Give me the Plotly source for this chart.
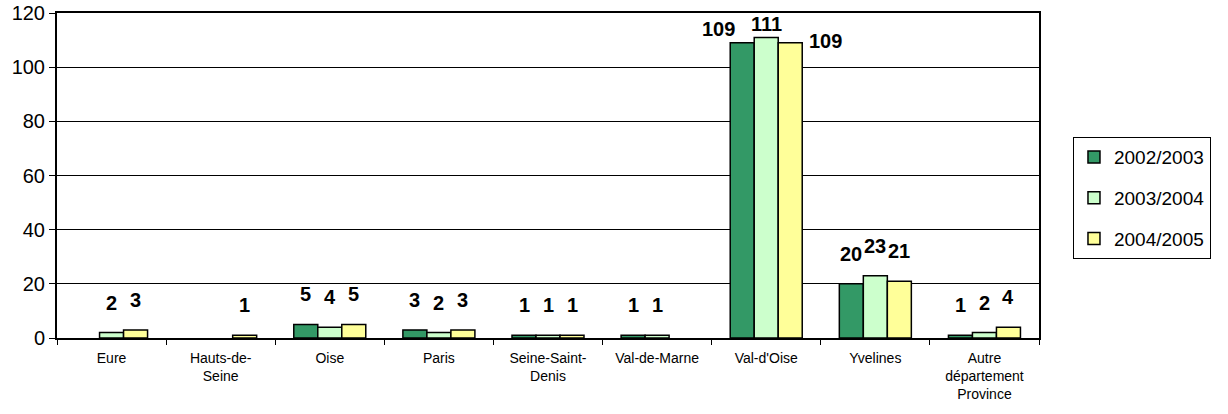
import plotly.graph_objects as go

categories = ["Eure", "Hauts-de-<br>Seine", "Oise", "Paris", "Seine-Saint-<br>Denis",
              "Val-de-Marne", "Val-d'Oise", "Yvelines", "Autre<br>département<br>Province"]
series_names = ["2002/2003", "2003/2004", "2004/2005"]
values_2002 = [None, None, 5, 3, 1, 1, 109, 20, 1]
values_2003 = [2, None, 4, 2, 1, 1, 111, 23, 2]
values_2004 = [3, 1, 5, 3, 1, None, 109, 21, 4]
y_ticks = [0, 20, 40, 60, 80, 100, 120]

colors = ["#339966", "#CCFFCC", "#FFFF99"]
all_values = [values_2002, values_2003, values_2004]

fig = go.Figure()
for name, vals, col in zip(series_names, all_values, colors):
    fig.add_trace(go.Bar(
        x=categories, y=vals, name=name, legendgroup=name,
        marker=dict(color=col, line=dict(color="black", width=1.5)),
    ))

# data labels, Excel moves the tall ones aside
bar_px = 24
nudge = {(6, 0): (-24, -16), (6, 1): (0, -17), (6, 2): (35, -28)}
annotations = []
for i, vals in enumerate(all_values):
    for j, v in enumerate(vals):
        if v is None:
            continue
        dx, dy = nudge.get((j, i), (0, 0))
        annotations.append(dict(
            x=categories[j], y=v, xref="x", yref="y", text=str(v),
            showarrow=False, yanchor="bottom",
            xshift=(i - 1) * bar_px + dx, yshift=17 + dy,
            font=dict(family="Liberation Sans, Arial", size=20, color="black", weight="bold"),
        ))

fig.update_layout(
    width=1228, height=414,
    margin=dict(l=57, r=189, t=13, b=76, autoexpand=False),
    paper_bgcolor="white", plot_bgcolor="white",
    barmode="group", bargap=0.34, bargroupgap=0,
    font=dict(family="Liberation Sans, Arial", color="black"),
    annotations=annotations,
    showlegend=True,
    legend=dict(
        x=1.0346, xanchor="left", y=0.618, yanchor="top",
        bordercolor="black", borderwidth=1,
        font=dict(size=19), tracegroupgap=13,
        itemwidth=30,
    ),
    xaxis=dict(
        type="category", tickson="boundaries", ticks="outside", ticklen=5,
        tickcolor="black", showline=True, linecolor="black", linewidth=2,
        mirror=True, showgrid=False, tickfont=dict(size=14),
        ticklabelstandoff=6, automargin=False,
    ),
    yaxis=dict(
        range=[0, 120], tickvals=y_ticks, ticks="outside", ticklen=6,
        tickcolor="black", showline=True, linecolor="black", linewidth=2,
        mirror=True, showgrid=True, gridcolor="black", gridwidth=1,
        tickfont=dict(size=20), zeroline=False, automargin=False,
        ticklabeloverflow="allow",
    ),
)

# drop the page's default 8px body margin so the chart sits at the window's corner
fig.write_html("out.html", config={"displayModeBar": False},
               post_script="document.body.style.margin='0';")
